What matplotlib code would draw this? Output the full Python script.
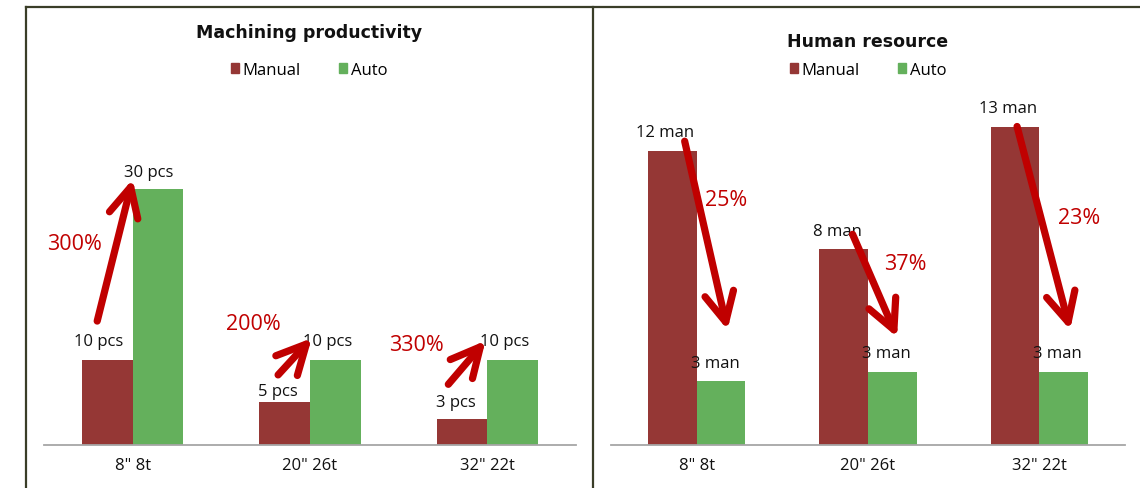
import matplotlib.pyplot as plt
import numpy as np
from matplotlib.patches import Patch, FancyArrowPatch
from matplotlib.lines import Line2D

plt.rcParams['font.family'] = ['Open Sans', 'DejaVu Sans']

# data
categories = ['8" 8t', '20" 26t', '32" 22t']
series = ['Manual', 'Auto']

prod_manual = [10, 5, 3]
prod_auto = [30, 10, 10]
prod_manual_lbl = ['10 pcs', '5 pcs', '3 pcs']
prod_auto_lbl = ['30 pcs', '10 pcs', '10 pcs']
prod_pct = ['300%', '200%', '330%']

hr_manual = [12, 8, 13]
hr_auto = [2.6, 3, 3]
hr_manual_lbl = ['12 man', '8 man', '13 man']
hr_auto_lbl = ['3 man', '3 man', '3 man']
hr_pct = ['25%', '37%', '23%']

# arrows (tail x, tail y, tip x, tip y) and percent text spots, in data units
prod_arrows = [(-0.20, 14.5, 0.0, 31.1), (0.82, 8.2, 1.01, 12.5), (1.78, 7.1, 1.99, 12.2)]
prod_pct_xy = [(-0.33, 23.6), (0.68, 14.2), (1.60, 11.8)]
hr_arrows = [(-0.07, 12.4, 0.18, 4.7), (0.91, 8.6, 1.17, 4.4), (1.87, 13.0, 2.18, 4.7)]
hr_pct_xy = [(0.17, 10.0), (1.22, 7.4), (2.23, 9.3)]

C_MAN = '#953735'
C_AUTO = '#64B05C'
C_ARROW = '#C00000'
BORDER = '#3A3E28'

W, H = 1140, 489
fig = plt.figure(figsize=(W / 100, H / 100), dpi=100)


def px_axes(x0, x1, y_base, y_top):
    return fig.add_axes([x0 / W, (H - y_base) / H, (x1 - x0) / W, (y_base - y_top) / H])


def panel(ax, title, title_xy, leg_xy, manual, auto, man_lbl, auto_lbl, ymax,
          arrows, pct, pct_xy, man_off, auto_off):
    x = np.arange(len(categories))
    w = 0.285
    ax.bar(x - w / 2, manual, w, color=C_MAN, zorder=2)
    ax.bar(x + w / 2, auto, w, color=C_AUTO, zorder=2)
    ax.set_xlim(-0.5, len(categories) - 0.5)
    ax.set_ylim(0, ymax)
    ax.set_xticks(x)
    ax.set_xticklabels(categories, fontsize=12, color='#111111')
    ax.tick_params(axis='x', length=0, pad=9)
    ax.set_yticks([])
    for s in ['top', 'left', 'right']:
        ax.spines[s].set_visible(False)
    ax.spines['bottom'].set_color('#A6A6A6')
    ax.spines['bottom'].set_linewidth(1.3)
    ax.patch.set_alpha(0)

    for i in range(len(categories)):
        ax.annotate(man_lbl[i], (x[i] - w / 2, manual[i]), xytext=man_off[i],
                    textcoords='offset pixels', ha='center', va='center',
                    fontsize=12, color='#111111', zorder=3)
        ax.annotate(auto_lbl[i], (x[i] + w / 2, auto[i]), xytext=auto_off[i],
                    textcoords='offset pixels', ha='center', va='center',
                    fontsize=12, color='#111111', zorder=3)

    for (x0, y0, x1, y1), t, (tx, ty) in zip(arrows, pct, pct_xy):
        a = FancyArrowPatch((x0, y0), (x1, y1), arrowstyle='->,head_length=21,head_width=10.5',
                            lw=5.2, color=C_ARROW, shrinkA=0, shrinkB=0, zorder=5)
        a.set_capstyle('round')
        a.set_joinstyle('round')
        ax.add_patch(a)
        ax.text(tx, ty, t, ha='center', va='center', fontsize=15.5, color=C_ARROW, zorder=4)

    fig.text(title_xy[0] / W, 1 - title_xy[1] / H, title, ha='center', va='center',
             fontsize=12.5, fontweight='bold', family='DejaVu Sans', color='#111111')
    handles = [Patch(color=C_MAN), Patch(color=C_AUTO)]
    fig.legend(handles, series, loc='center', bbox_to_anchor=(leg_xy[0] / W, 1 - leg_xy[1] / H),
               ncol=2, frameon=False, fontsize=12, handlelength=0.5, handleheight=0.5,
               handletextpad=0.2, columnspacing=2.3, borderpad=0)


ax1 = px_axes(44, 576, 446, 146)
panel(ax1, 'Machining productivity', (309, 33), (309, 71),
      prod_manual, prod_auto, prod_manual_lbl, prod_auto_lbl, 35.1,
      prod_arrows, prod_pct, prod_pct_xy,
      [(-9, 19), (-7, 11), (-6, 17)], [(-9, 17), (-8, 19), (-8, 19)])

ax2 = px_axes(611, 1125, 446, 103)
panel(ax2, 'Human resource', (868, 42), (868, 71),
      hr_manual, hr_auto, hr_manual_lbl, hr_auto_lbl, 14.0,
      hr_arrows, hr_pct, hr_pct_xy,
      [(-7, 19), (-6, 18), (-7, 19)], [(-6, 18), (-6, 18), (-6, 18)])

# panel frames
for xs, ys in [([26 / W, 26 / W], [0, 1 - 8 / H]),
               ([592.5 / W, 592.5 / W], [0, 1 - 8 / H]),
               ([26 / W, 1], [1 - 8 / H, 1 - 8 / H])]:
    fig.add_artist(Line2D(xs, ys, color=BORDER, lw=1.6))

fig.savefig('out.png', dpi=100, facecolor='white')
